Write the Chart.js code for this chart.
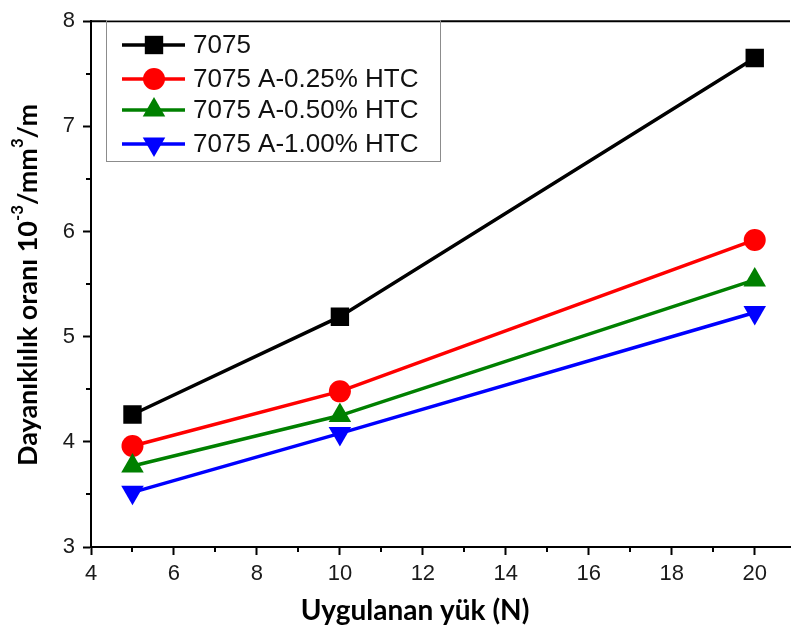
<!DOCTYPE html>
<html>
<head>
<meta charset="utf-8">
<script src="https://cdn.jsdelivr.net/npm/chart.js@4"></script>
<style>
  html, body { margin: 0; padding: 0; background: #fff; }
</style>
</head>
<body>
<canvas id="myChart" width="803" height="635"></canvas>
<script>
const loads = [5, 10, 20]
const seriesNames = ['7075', '7075 A-0.25% HTC', '7075 A-0.50% HTC', '7075 A-1.00% HTC']
const alloy = [4.26, 5.19, 7.65]
const htc025 = [3.96, 4.48, 5.92]
const htc050 = [3.77, 4.25, 5.54]
const htc100 = [3.52, 4.08, 5.23]
const xTicks = [4, 6, 8, 10, 12, 14, 16, 18, 20]
const yTicks = [3, 4, 5, 6, 7, 8]
const xMinor = [5, 7, 9, 11, 13, 15, 17, 19]
const yMinor = [3.5, 4.5, 5.5, 6.5, 7.5]

const toPoints = vals => loads.map((x, i) => ({ x: x, y: vals[i] }))

const serie = (label, vals, color, style, radius, rotation, order) => ({
  label: label,
  data: toPoints(vals),
  borderColor: color,
  backgroundColor: color,
  borderWidth: 3.5,
  pointStyle: style,
  pointRadius: radius,
  pointRotation: rotation,
  pointBorderWidth: 0,
  tension: 0,
  order: order
})

// little helper so the superscripts stay real text
const drawRich = (ctx, parts, x, y, size) => {
  let total = 0
  parts.forEach(p => {
    ctx.font = 'bold ' + (p.sup ? size * 0.62 : size) + 'px Lato'
    total += ctx.measureText(p.t).width
  })
  let cx = x - total / 2
  ctx.textAlign = 'left'
  parts.forEach(p => {
    ctx.font = 'bold ' + (p.sup ? size * 0.62 : size) + 'px Lato'
    ctx.fillText(p.t, cx, p.sup ? y - size * 0.38 : y)
    cx += ctx.measureText(p.t).width
  })
}

const extras = {
  id: 'extras',
  afterDraw(chart) {
    const { ctx, chartArea: a, scales: { x, y } } = chart
    ctx.save()
    ctx.strokeStyle = '#000'
    ctx.lineWidth = 2
    ctx.beginPath()
    ctx.moveTo(a.left - 1, a.top)
    ctx.lineTo(a.right, a.top)
    xMinor.forEach(v => {
      const px = Math.round(x.getPixelForValue(v))
      ctx.moveTo(px, a.bottom)
      ctx.lineTo(px, a.bottom + 5)
    })
    yMinor.forEach(v => {
      const py = Math.round(y.getPixelForValue(v))
      ctx.moveTo(a.left, py)
      ctx.lineTo(a.left - 5, py)
    })
    ctx.stroke()

    // axis titles
    ctx.fillStyle = '#000'
    ctx.textBaseline = 'middle'
    drawRich(ctx, [{ t: 'Uygulanan yük (N)' }], 415, 611, 28)
    ctx.save()
    ctx.translate(28, 285)
    ctx.rotate(-Math.PI / 2)
    drawRich(ctx, [
      { t: 'Dayanıklılık oranı 10' }, { t: '-3', sup: true },
      { t: '/mm' }, { t: '3', sup: true }, { t: '/m' }
    ], 0, 0, 27)
    ctx.restore()

    // legend
    ctx.lineWidth = 1
    ctx.strokeStyle = '#8c8c8c'
    ctx.strokeRect(106.5, 20.5, 334, 141)
    const rows = [45, 79, 110, 144]
    chart.data.datasets.forEach((ds, i) => {
      const ry = rows[i]
      ctx.strokeStyle = ds.borderColor
      ctx.lineWidth = 3.5
      ctx.beginPath()
      ctx.moveTo(122, ry)
      ctx.lineTo(185, ry)
      ctx.stroke()
      ctx.fillStyle = ds.backgroundColor
      Chart.helpers.drawPoint(ctx, {
        pointStyle: ds.pointStyle, radius: ds.pointRadius,
        rotation: ds.pointRotation, borderWidth: 0
      }, 154, ry)
      ctx.fillStyle = '#111'
      ctx.font = '26px "Liberation Sans", Arial, sans-serif'
      ctx.textAlign = 'left'
      ctx.fillText(seriesNames[i], 193, ry + 1)
    })
    ctx.restore()
  }
}

const tickFont = { family: '"Liberation Sans", Arial, sans-serif', size: 22 }

const ctx = document.getElementById('myChart').getContext('2d')
const myChart = new Chart(ctx, {
  type: 'line',
  data: {
    datasets: [
      serie(seriesNames[0], alloy, '#000000', 'rect', 13, 0, 3),
      serie(seriesNames[1], htc025, '#ff0000', 'circle', 11, 0, 2),
      serie(seriesNames[2], htc050, '#008000', 'triangle', 13, 0, 1),
      serie(seriesNames[3], htc100, '#0000ff', 'triangle', 13, 180, 0)
    ]
  },
  options: {
    responsive: false,
    animation: false,
    layout: { padding: { top: 14, right: 0, left: 0, bottom: 0 } },
    plugins: {
      legend: { display: false },
      tooltip: { enabled: false }
    },
    scales: {
      x: {
        type: 'linear',
        min: 4,
        max: 20.85,
        afterBuildTicks: s => { s.ticks = xTicks.map(v => ({ value: v })) },
        afterFit: s => { s.height = 88 },
        ticks: {
          font: tickFont,
          color: '#1a1a1a',
          padding: 6,
          maxRotation: 0,
          autoSkip: false
        },
        grid: { drawOnChartArea: false, tickLength: 8, tickWidth: 2, tickColor: '#000' },
        border: { color: '#000', width: 2 }
      },
      y: {
        min: 3,
        max: 8,
        afterBuildTicks: s => { s.ticks = yTicks.map(v => ({ value: v })) },
        afterFit: s => { s.width = 91 },
        ticks: {
          font: tickFont,
          color: '#1a1a1a',
          padding: 8,
          autoSkip: false
        },
        grid: { drawOnChartArea: false, tickLength: 8, tickWidth: 2, tickColor: '#000' },
        border: { color: '#000', width: 2 }
      }
    }
  },
  plugins: [extras]
})
</script>
</body>
</html>
